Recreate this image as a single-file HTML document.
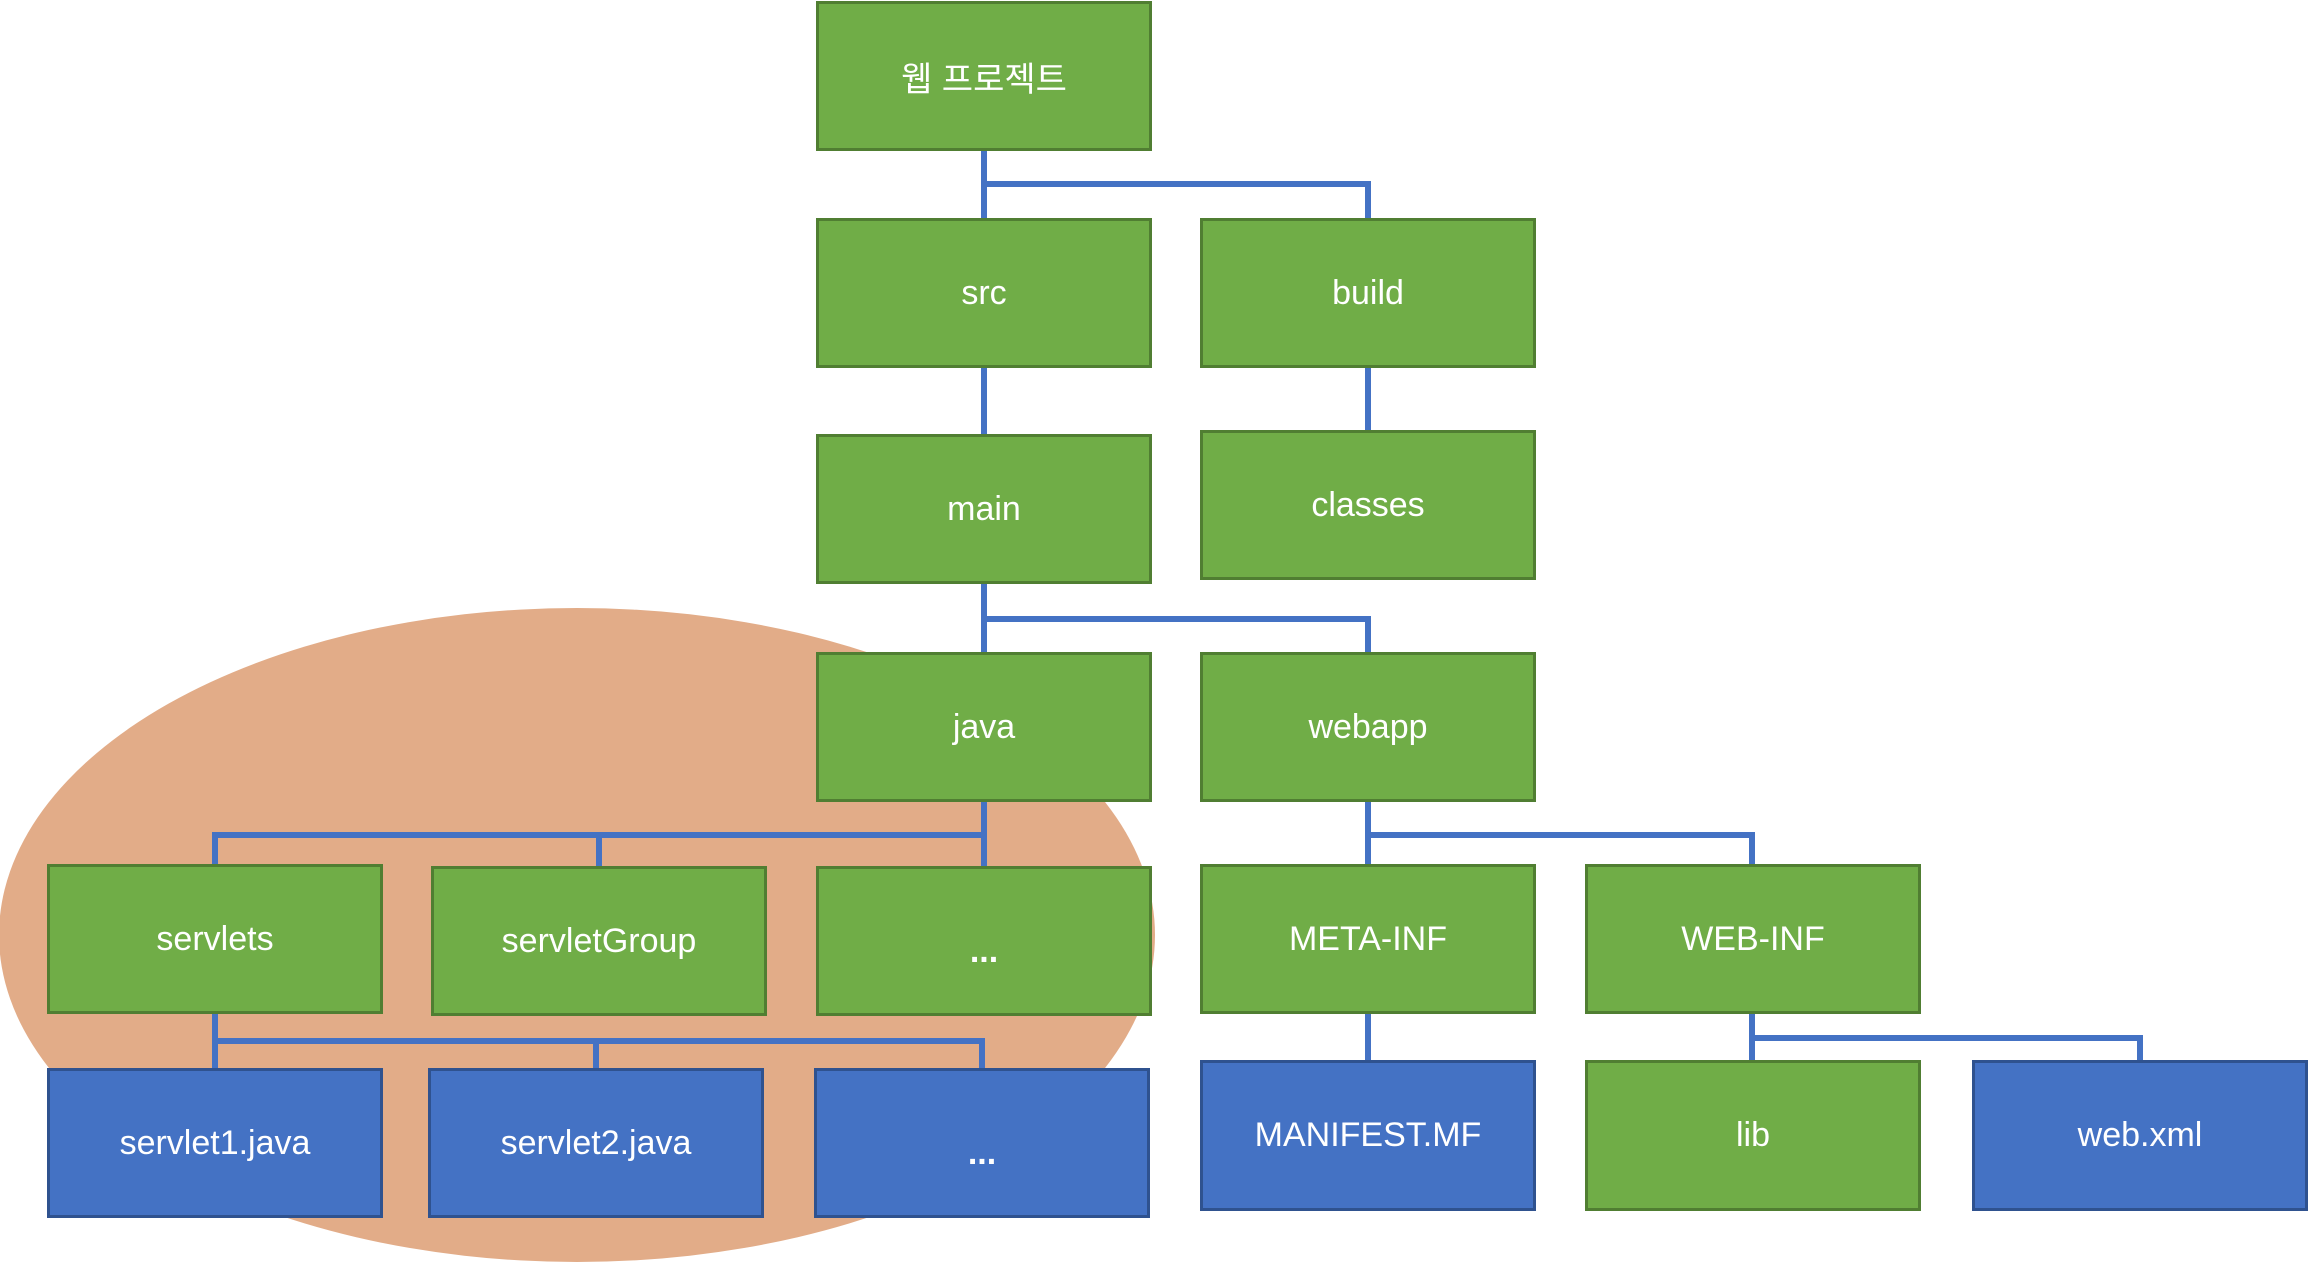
<!DOCTYPE html>
<html><head><meta charset="utf-8"><style>
body{margin:0;width:2309px;height:1264px;background:#fff;position:relative;overflow:hidden;font-family:"Liberation Sans","Noto Sans CJK KR",sans-serif}
.b{position:absolute;box-sizing:border-box;display:flex;align-items:center;justify-content:center;color:#fff;font-size:34px;border:3px solid #507E32;background:#70AD47}
.bl{background:#4472C4;border-color:#2F528F}
svg{position:absolute;left:0;top:0}
</style></head><body>
<svg width="2309" height="1264">
<ellipse cx="577" cy="935" rx="578" ry="327" fill="#E2AC88"/>
<g stroke="#4472C4" stroke-width="6" fill="none">
<path d="M984 150V218M984 184H1368V218"/>
<path d="M984 367V434M1368 367V430"/>
<path d="M984 583V652M984 619H1368V652"/>
<path d="M984 801V866M215 864V835H984M599 835V866"/>
<path d="M215 1013V1068M215 1041H982V1068M596 1041V1068"/>
<path d="M1368 801V864M1368 835H1752V864"/>
<path d="M1368 1013V1060M1752 1013V1060M1752 1038H2140V1060"/>
</g></svg>
<div class="b" style="left:816px;top:1px;width:336px;height:150px">웹 프로젝트</div>
<div class="b" style="left:816px;top:218px;width:336px;height:150px">src</div>
<div class="b" style="left:1200px;top:218px;width:336px;height:150px">build</div>
<div class="b" style="left:816px;top:434px;width:336px;height:150px">main</div>
<div class="b" style="left:1200px;top:430px;width:336px;height:150px">classes</div>
<div class="b" style="left:816px;top:652px;width:336px;height:150px">java</div>
<div class="b" style="left:1200px;top:652px;width:336px;height:150px">webapp</div>
<div class="b" style="left:47px;top:864px;width:336px;height:150px">servlets</div>
<div class="b" style="left:431px;top:866px;width:336px;height:150px">servletGroup</div>
<div class="b" style="left:816px;top:866px;width:336px;height:150px;padding-top:20px;font-weight:bold">...</div>
<div class="b" style="left:1200px;top:864px;width:336px;height:150px">META-INF</div>
<div class="b" style="left:1585px;top:864px;width:336px;height:150px">WEB-INF</div>
<div class="b bl" style="left:47px;top:1068px;width:336px;height:150px">servlet1.java</div>
<div class="b bl" style="left:428px;top:1068px;width:336px;height:150px">servlet2.java</div>
<div class="b bl" style="left:814px;top:1068px;width:336px;height:150px;padding-top:20px;font-weight:bold">...</div>
<div class="b bl" style="left:1200px;top:1060px;width:336px;height:151px">MANIFEST.MF</div>
<div class="b" style="left:1585px;top:1060px;width:336px;height:151px">lib</div>
<div class="b bl" style="left:1972px;top:1060px;width:336px;height:151px">web.xml</div>
</body></html>
